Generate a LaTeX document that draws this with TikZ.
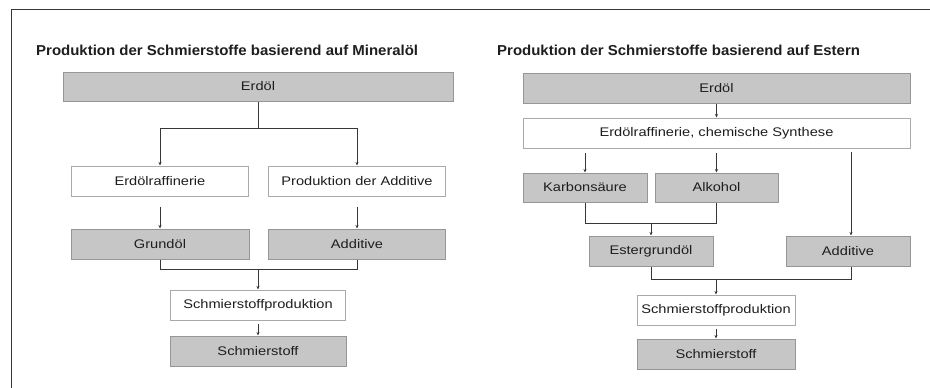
\documentclass[tikz,border=0pt]{standalone}
\usepackage{fontspec}
\setmainfont{Liberation Sans}[FakeStretch=1.17]
\newfontfamily\ttlfont{Liberation Sans}[FakeStretch=1.04]
\usetikzlibrary{arrows.meta}
\definecolor{boxgray}{RGB}{198,198,198}
\definecolor{boxedge}{RGB}{150,150,150}
\definecolor{wedge}{RGB}{170,170,170}
\definecolor{linec}{RGB}{55,55,55}
\definecolor{txt}{RGB}{30,30,30}
\tikzset{
  gbox/.style={draw=boxedge, fill=boxgray, line width=1pt, inner sep=0pt,
    font=\fontsize{12.5}{14}\selectfont, text=txt},
  wbox/.style={draw=wedge, fill=white, line width=1pt, inner sep=0pt,
    font=\fontsize{12.5}{14}\selectfont, text=txt},
  conn/.style={draw=linec, line width=1pt},
  arr/.style={conn, -{Stealth[length=3.5pt,width=3pt]}},
  ttl/.style={anchor=base west, inner sep=0pt, text=txt,
    font=\ttlfont\bfseries\fontsize{14.4}{16}\selectfont},
  frame/.style={draw=linec, line width=1pt}
}
\begin{document}
\begin{tikzpicture}[x=1pt,y=-1pt]
\useasboundingbox (0,0) rectangle (930,388);
% frame
\coordinate (fa) at (11,388);
\coordinate (fb) at (11,9);
\coordinate (fc) at (930,9);
\draw[frame] (fa) -- (fb) -- (fc);

% ---------- left ----------
\node[ttl] (t1) at (36,56) {Produktion der Schmierstoffe basierend auf Mineralöl};
\node[gbox, minimum width=390pt, minimum height=29pt] (erd1) at (258,86.5) {Erdöl};
\node[wbox, minimum width=177pt, minimum height=30pt] (raf1) at (160,181) {Erdölraffinerie};
\node[wbox, minimum width=177pt, minimum height=30pt] (pad1) at (357,181) {Produktion der Additive};
\node[gbox, minimum width=178pt, minimum height=30pt] (gru1) at (160,244) {Grundöl};
\node[gbox, minimum width=177pt, minimum height=30pt] (add1) at (357,244) {Additive};
\node[wbox, minimum width=175pt, minimum height=30pt] (spr1) at (258,305) {Schmierstoffproduktion};
\node[gbox, minimum width=176pt, minimum height=30pt] (sch1) at (258,351) {Schmierstoff};

\coordinate (j1) at (258,128);
\draw[conn] (erd1.south) -- (j1);
\draw[arr] (j1) -| (raf1.north);
\draw[arr] (j1) -| (pad1.north);
\draw[arr, shorten <=10pt] (raf1.south) -- (gru1.north);
\draw[arr, shorten <=10pt] (pad1.south) -- (add1.north);
\coordinate (j2) at (258,269);
\draw[conn] (gru1.south) |- (j2);
\draw[conn] (add1.south) |- (j2);
\draw[arr] (j2) -- (spr1.north);
\draw[arr, shorten <=3pt] (spr1.south) -- (sch1.north);

% ---------- right ----------
\node[ttl] (t2) at (497,56) {Produktion der Schmierstoffe basierend auf Estern};
\node[gbox, minimum width=387pt, minimum height=30pt] (erd2) at (716.5,88) {Erdöl};
\node[wbox, minimum width=387pt, minimum height=30pt] (raf2) at (716.5,133) {Erdölraffinerie, chemische Synthese};
\node[gbox, minimum width=124pt, minimum height=29pt] (karb) at (585,187.5) {Karbonsäure};
\node[gbox, minimum width=123pt, minimum height=29pt] (alk) at (716.5,187.5) {Alkohol};
\node[gbox, minimum width=124pt, minimum height=30pt] (est) at (651,251) {Estergrundöl};
\node[gbox, minimum width=124pt, minimum height=30pt] (add2) at (848,251) {Additive};
\node[wbox, minimum width=158pt, minimum height=30pt] (spr2) at (716,310) {Schmierstoffproduktion};
\node[gbox, minimum width=158pt, minimum height=30pt] (sch2) at (716,354) {Schmierstoff};

\draw[arr] (erd2.south) -- (raf2.north);
\draw[arr, shorten <=4pt] (raf2.south -| karb.north) -- (karb.north);
\draw[arr, shorten <=4pt] (raf2.south -| alk.north) -- (alk.north);
\coordinate (r2) at (851,148);
\draw[arr, shorten <=4pt] (r2) -- (r2 |- add2.north);
\coordinate (j3) at (651,223);
\draw[conn] (karb.south) |- (j3);
\draw[conn] (alk.south) |- (j3);
\draw[arr] (j3) -- (est.north);
\coordinate (j4) at (716,279);
\draw[conn] (est.south) |- (j4);
\draw[conn] (r2 |- add2.south) |- (j4);
\draw[arr] (j4) -- (spr2.north);
\draw[arr, shorten <=3pt] (spr2.south) -- (sch2.north);
\end{tikzpicture}
\end{document}
